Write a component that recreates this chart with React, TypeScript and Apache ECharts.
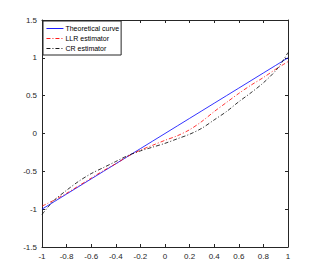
import React, { useEffect, useRef } from "react";
import * as echarts from "echarts";

const xs = [-1, -0.95, -0.9, -0.8, -0.7, -0.6, -0.5, -0.4, -0.3, -0.2, -0.1, 0, 0.1, 0.2, 0.3, 0.4, 0.5, 0.6, 0.7, 0.8, 0.9, 0.95, 1];
const theoretical = [-1, -0.95, -0.9, -0.8, -0.7, -0.6, -0.5, -0.4, -0.3, -0.2, -0.1, 0, 0.1, 0.2, 0.3, 0.4, 0.5, 0.6, 0.7, 0.8, 0.9, 0.95, 1];
const llr = [-0.96, -0.92, -0.88, -0.79, -0.69, -0.59, -0.49, -0.4, -0.3, -0.22, -0.155, -0.09, -0.03, 0.05, 0.16, 0.29, 0.41, 0.53, 0.64, 0.74, 0.85, 0.9, 0.95];
const cr = [-1.07, -0.97, -0.88, -0.75, -0.63, -0.53, -0.45, -0.37, -0.29, -0.23, -0.18, -0.13, -0.07, -0.01, 0.07, 0.18, 0.29, 0.42, 0.54, 0.67, 0.83, 0.94, 1.07];
const seriesNames = ["Theoretical curve", "LLR estimator", "CR estimator"];

const FONT = "'Liberation Sans', Arial, sans-serif";
const AX = "#262626";

export default function App() {
  const ref = useRef<HTMLDivElement>(null);
  useEffect(() => {
    const chart = echarts.init(ref.current!, null, { renderer: "svg" });
    const pair = (ys: number[]) => xs.map((x, i) => [x, ys[i]]);
    const axisCommon = {
      type: "value",
      axisLine: { show: true, onZero: false, lineStyle: { color: AX, width: 1 } },
      axisTick: { show: true, inside: true, length: 3, lineStyle: { color: AX, width: 1 } },
      splitLine: { show: false },
    };
    chart.setOption({
      animation: false,
      backgroundColor: "#ffffff",
      grid: { left: 42, right: 31, top: 20, bottom: 30 },
      xAxis: [
        {
          ...axisCommon,
          position: "bottom",
          min: -1,
          max: 1,
          interval: 0.2,
          axisLabel: { color: AX, fontSize: 8, fontFamily: FONT, margin: 5 },
        },
        {
          ...axisCommon,
          position: "top",
          min: -1,
          max: 1,
          interval: 0.2,
          axisLabel: { show: false },
        },
      ],
      yAxis: [
        {
          ...axisCommon,
          position: "left",
          min: -1.5,
          max: 1.5,
          interval: 0.5,
          axisLabel: { color: AX, fontSize: 8, fontFamily: FONT, margin: 5 },
        },
        {
          ...axisCommon,
          position: "right",
          min: -1.5,
          max: 1.5,
          interval: 0.5,
          axisLabel: { show: false },
        },
      ],
      legend: {
        orient: "vertical",
        left: 43,
        top: 21,
        backgroundColor: "#ffffff",
        borderColor: AX,
        borderWidth: 1,
        borderRadius: 0,
        padding: [4, 2, 3, 3],
        itemWidth: 17,
        itemHeight: 8,
        itemGap: 3,
        itemStyle: { opacity: 0 },
        lineStyle: { width: 0.9 },
        textStyle: { color: "#000", fontSize: 7, fontFamily: FONT, padding: [0, 0, 0, -3] },
        data: seriesNames,
      },
      series: [
        {
          name: seriesNames[0],
          type: "line",
          data: pair(theoretical),
          showSymbol: false,
          symbol: "none",
          lineStyle: { color: "#0000ff", width: 0.8, type: "solid" },
          itemStyle: { color: "#0000ff" },
        },
        {
          name: seriesNames[1],
          type: "line",
          data: pair(llr),
          smooth: 0.3,
          showSymbol: false,
          symbol: "none",
          lineStyle: { color: "#ff0000", width: 0.8, type: [4, 2, 1, 2] },
          itemStyle: { color: "#ff0000" },
        },
        {
          name: seriesNames[2],
          type: "line",
          data: pair(cr),
          smooth: 0.3,
          showSymbol: false,
          symbol: "none",
          lineStyle: { color: "#000000", width: 0.8, type: [4, 2, 1, 2] },
          itemStyle: { color: "#000000" },
        },
      ],
    });
    return () => chart.dispose();
  }, []);
  return (
    <div
      ref={ref}
      style={{ position: "fixed", left: 0, top: 0, width: 319, height: 277, background: "#fff" }}
    />
  );
}
